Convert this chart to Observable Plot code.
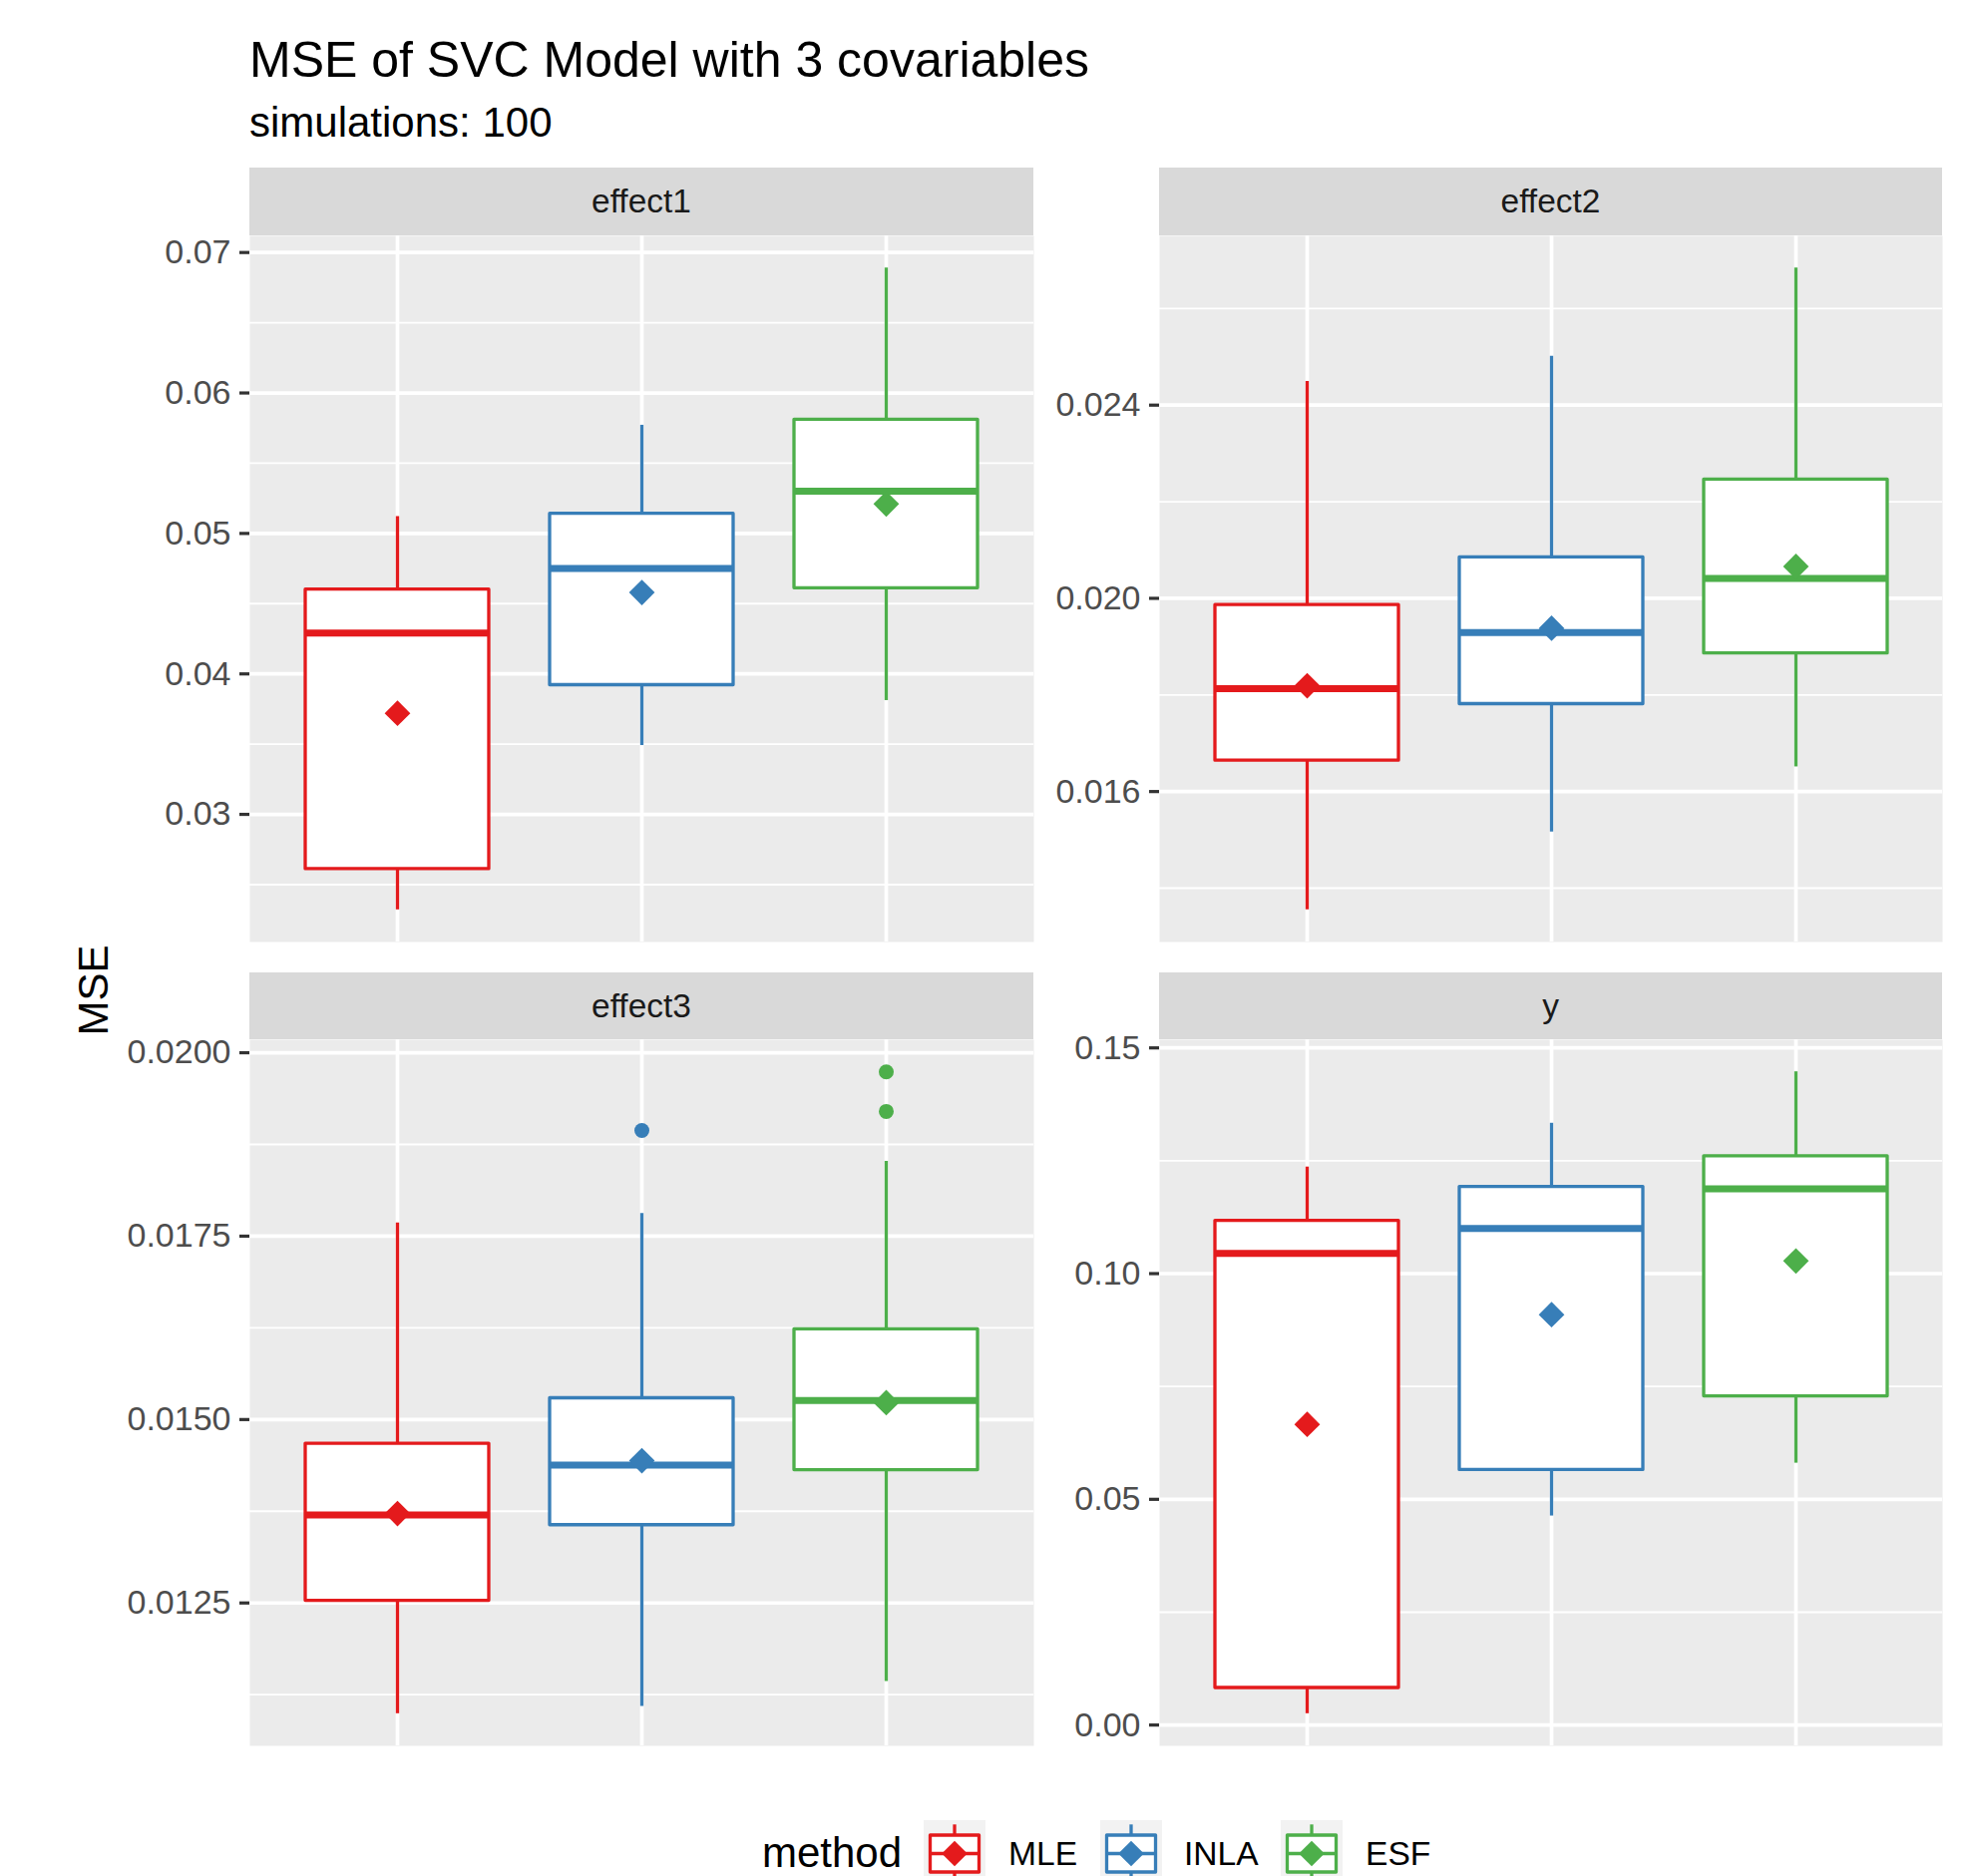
<!DOCTYPE html>
<html>
<head>
<meta charset="utf-8">
<script src="https://cdn.jsdelivr.net/npm/d3@7"></script>
<script src="https://cdn.jsdelivr.net/npm/@observablehq/plot@0.6"></script>
<style>
  html, body { margin: 0; padding: 0; background: #fff; }
  #root { position: relative; width: 1972px; height: 1881px; overflow: hidden; background: #fff;
          font-family: "Liberation Sans", Arial, Helvetica, sans-serif; }
  .txt { position: absolute; white-space: nowrap; line-height: 1; }
  .strip { position: absolute; background: #D9D9D9; color: #1A1A1A; font-size: 33.5px;
           display: flex; align-items: center; justify-content: center; }
  .panel { position: absolute; }
  .panel svg { overflow: visible; }
  .panel svg [aria-label^="y-axis"] line,
  .panel svg [aria-label="y-axis tick"] path { stroke: #333333; stroke-width: 3.2px; }
  .panel svg [aria-label^="y-axis"] path.domain { display: none; }
  .key { position: absolute; top: 1825px; display: block; }
  .ltxt { position: absolute; white-space: nowrap; line-height: 1; color: #000; }
</style>
</head>
<body>
<div id="root"></div>
<script>
// ---------------- data ----------------
const methods = ["MLE", "INLA", "ESF"];
const colors = ["#E41A1C", "#377EB8", "#4DAF4A"];
const panels = ["effect1", "effect2", "effect3", "y"];

// per panel: [MLE, INLA, ESF]
const lowerWhisker = [
  [0.0232, 0.0349, 0.0381],
  [0.01355, 0.01516, 0.01651],
  [0.01099, 0.01109, 0.01143],
  [0.0025, 0.0463, 0.0580]
];
const q1 = [
  [0.0261, 0.0392, 0.0461],
  [0.01664, 0.01781, 0.01886],
  [0.01253, 0.01356, 0.01431],
  [0.0082, 0.0565, 0.0728]
];
const median = [
  [0.0429, 0.0475, 0.0530],
  [0.01813, 0.01929, 0.02041],
  [0.01370, 0.01438, 0.01526],
  [0.1045, 0.1100, 0.1188]
];
const q3 = [
  [0.0460, 0.0514, 0.0581],
  [0.01986, 0.02085, 0.02246],
  [0.01467, 0.01529, 0.01623],
  [0.1117, 0.1192, 0.1260]
];
const upperWhisker = [
  [0.0512, 0.0577, 0.0689],
  [0.02449, 0.02501, 0.02684],
  [0.01768, 0.01781, 0.01852],
  [0.1236, 0.1333, 0.1447]
];
const meanValue = [
  [0.0372, 0.0458, 0.0521],
  [0.01819, 0.01938, 0.02066],
  [0.01372, 0.01444, 0.01523],
  [0.0666, 0.0909, 0.1028]
];
const outlierPanel = ["effect3", "effect3", "effect3"];
const outlierMethod = ["INLA", "ESF", "ESF"];
const outlierValue = [0.01894, 0.01974, 0.01920];

const majorTicks = [
  [0.03, 0.04, 0.05, 0.06, 0.07],
  [0.016, 0.020, 0.024],
  [0.0125, 0.0150, 0.0175, 0.0200],
  [0.00, 0.05, 0.10, 0.15]
];
const minorTicks = [
  [0.025, 0.035, 0.045, 0.055, 0.065],
  [0.014, 0.018, 0.022, 0.026],
  [0.01125, 0.01375, 0.01625, 0.01875],
  [0.025, 0.075, 0.125]
];
const tickFormats = [".2f", ".3f", ".4f", ".2f"];

const titleText = "MSE of SVC Model with 3 covariables";
const subtitleText = "simulations: 100";
const yLabel = "MSE";
const legendTitle = "method";

// ---------------- layout ----------------
const root = document.getElementById("root");
const FONT = '"Liberation Sans", Arial, Helvetica, sans-serif';

function addText(text, left, baseline, size, color, cls = "txt") {
  const d = document.createElement("div");
  d.className = cls;
  d.textContent = text;
  d.style.left = left + "px";
  d.style.top = (baseline - 0.8465 * size) + "px";
  d.style.fontSize = size + "px";
  d.style.color = color;
  root.appendChild(d);
  return d;
}

addText(titleText, 250, 77, 50, "#000");
addText(subtitleText, 250, 137.5, 42, "#000");

// y axis title (rotated)
const yl = document.createElement("div");
yl.className = "txt";
yl.textContent = yLabel;
Object.assign(yl.style, {
  fontSize: "42px", color: "#000", left: "94px", top: "993px",
  transform: "translate(-50%, -50%) rotate(-90deg)", lineHeight: "1"
});
root.appendChild(yl);

// panel geometry
const colX = [[250, 1036], [1162, 1947]];
const rowY = [[168, 236, 944], [975, 1042, 1750]]; // strip top, panel top, panel bottom
const PAD = 24;

panels.forEach((name, p) => {
  const col = p % 2, row = Math.floor(p / 2);
  const [x0, x1] = colX[col];
  const [sTop, pTop, pBot] = rowY[row];
  const svgLeft = col === 0 ? 0 : colX[0][1];
  const marginLeft = x0 - svgLeft;

  // strip
  const s = document.createElement("div");
  s.className = "strip";
  s.textContent = name;
  Object.assign(s.style, { left: x0 + "px", top: sTop + "px", width: (x1 - x0) + "px", height: (pTop - sTop) + "px" });
  root.appendChild(s);

  const rows = methods.map((m, j) => ({
    method: m,
    lw: lowerWhisker[p][j], q1: q1[p][j], med: median[p][j],
    q3: q3[p][j], uw: upperWhisker[p][j], mean: meanValue[p][j]
  }));
  const outs = outlierValue.map((v, k) => ({ panel: outlierPanel[k], method: outlierMethod[k], value: v }))
    .filter(o => o.panel === name);

  const all = rows.flatMap(r => [r.lw, r.uw]).concat(outs.map(o => o.value));
  const lo = d3.min(all), hi = d3.max(all), ex = (hi - lo) * 0.05;

  const chart = Plot.plot({
    width: x1 - svgLeft,
    height: (pBot - pTop) + 2 * PAD,
    marginLeft: marginLeft, marginRight: 0, marginTop: PAD, marginBottom: PAD,
    style: { fontSize: "34px", fontFamily: FONT, color: "#4D4D4D", background: "transparent", overflow: "visible" },
    x: { type: "band", domain: methods, paddingInner: 0.25, paddingOuter: 0.225, axis: null },
    y: { domain: [lo - ex, hi + ex], ticks: majorTicks[p], tickFormat: d3.format(tickFormats[p]),
         tickSize: 10, tickPadding: 9, label: null, line: false },
    color: { domain: methods, range: colors },
    marks: [
      Plot.frame({ fill: "#EBEBEB", stroke: "none" }),
      Plot.ruleY(minorTicks[p], { stroke: "white", strokeWidth: 1.85 }),
      Plot.ruleY(majorTicks[p], { stroke: "white", strokeWidth: 3.7 }),
      Plot.ruleX(methods, { x: d => d, stroke: "white", strokeWidth: 3.7 }),
      Plot.ruleX(rows, { x: "method", y1: "q3", y2: "uw", stroke: "method", strokeWidth: 3.3 }),
      Plot.ruleX(rows, { x: "method", y1: "lw", y2: "q1", stroke: "method", strokeWidth: 3.3 }),
      Plot.barY(rows, { x: "method", y1: "q1", y2: "q3", fill: "white", stroke: "method", strokeWidth: 3.3, strokeLinejoin: "round" }),
      Plot.tickY(rows, { x: "method", y: "med", stroke: "method", strokeWidth: 7 }),
      Plot.dot(outs, { x: "method", y: "value", fill: "method", r: 7.5 }),
      Plot.dot(rows, { x: "method", y: "mean", fill: "method", symbol: d3.symbolDiamond2, r: 11.6 })
    ]
  });
  const wrap = document.createElement("div");
  wrap.className = "panel";
  wrap.style.left = svgLeft + "px";
  wrap.style.top = (pTop - PAD) + "px";
  wrap.appendChild(chart);
  root.appendChild(wrap);
});

// ---------------- legend ----------------
const legendBaseline = 1872.5;
addText(legendTitle, 764, legendBaseline, 42, "#000", "ltxt");
const keyLeft = [925.5, 1102.5, 1284];
const labelLeft = [1011, 1187, 1369];
methods.forEach((m, j) => {
  const W = 62, H = 67;
  const svg = d3.create("svg").attr("width", W).attr("height", H).attr("class", "key")
    .style("left", keyLeft[j] + "px");
  svg.append("rect").attr("width", W).attr("height", H).attr("fill", "#F2F2F2");
  svg.append("line").attr("x1", W / 2).attr("x2", W / 2).attr("y1", 4.3).attr("y2", H - 4.3)
    .attr("stroke", colors[j]).attr("stroke-width", 3.3);
  svg.append("rect").attr("x", 6.5).attr("y", 15).attr("width", W - 13).attr("height", H - 30)
    .attr("fill", "white").attr("stroke", colors[j]).attr("stroke-width", 3.3).attr("stroke-linejoin", "round");
  svg.append("line").attr("x1", 6.5).attr("x2", W - 6.5).attr("y1", H / 2).attr("y2", H / 2)
    .attr("stroke", colors[j]).attr("stroke-width", 3.3);
  svg.append("path").attr("transform", `translate(${W / 2},${H / 2})`)
    .attr("d", d3.symbol(d3.symbolDiamond2, 420)()).attr("fill", colors[j]);
  root.appendChild(svg.node());
  addText(m, labelLeft[j], 1870, 33.6, "#000", "ltxt");
});
</script>
</body>
</html>
